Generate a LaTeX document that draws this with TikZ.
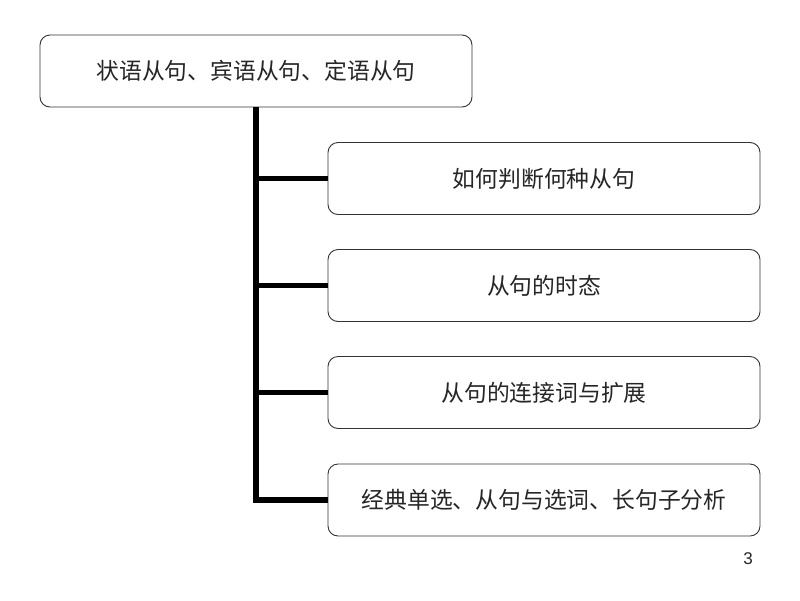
\documentclass[tikz,border=0pt]{standalone}
\usepackage{fontspec}
\newfontfamily\cjk{Noto Sans CJK SC}
\setmainfont{Liberation Sans}
\begin{document}
\begin{tikzpicture}[x=1pt,y=-1pt,
  box/.style={draw=black!80, line width=0.9pt, rounded corners=10pt, minimum width=432pt, minimum height=72pt, inner sep=0pt, font=\cjk\fontsize{22.8}{22.8}\selectfont, text=black!85},
  trunk/.style={line width=5.5pt, black}]
\useasboundingbox[fill=white] (0,0) rectangle (800,600);
\node[box] (top) at (256,71) {状语从句、宾语从句、定语从句};
\node[box] (b1) at (544,178.5) {如何判断何种从句};
\node[box] (b2) at (544,285.5) {从句的时态};
\node[box] (b3) at (544,392.5) {从句的连接词与扩展};
\node[box] (b4) at (544,500) {经典单选、从句与选词、长句子分析};
\coordinate (c1) at (top.south |- b1.west);
\coordinate (c2) at (top.south |- b2.west);
\coordinate (c3) at (top.south |- b3.west);
\coordinate (c4) at (top.south |- b4.west);
\draw[trunk] (top.south) -- ([yshift=2.75pt]c4) ;
\draw[trunk] ([xshift=-2.75pt]c4) -- (b4.west);
\draw[trunk] (c1) -- (b1.west);
\draw[trunk] (c2) -- (b2.west);
\draw[trunk] (c3) -- (b3.west);
\node[font=\fontsize{17}{17}\selectfont, text=black!85] (pg) at (748,559) {3};
\end{tikzpicture}
\end{document}
